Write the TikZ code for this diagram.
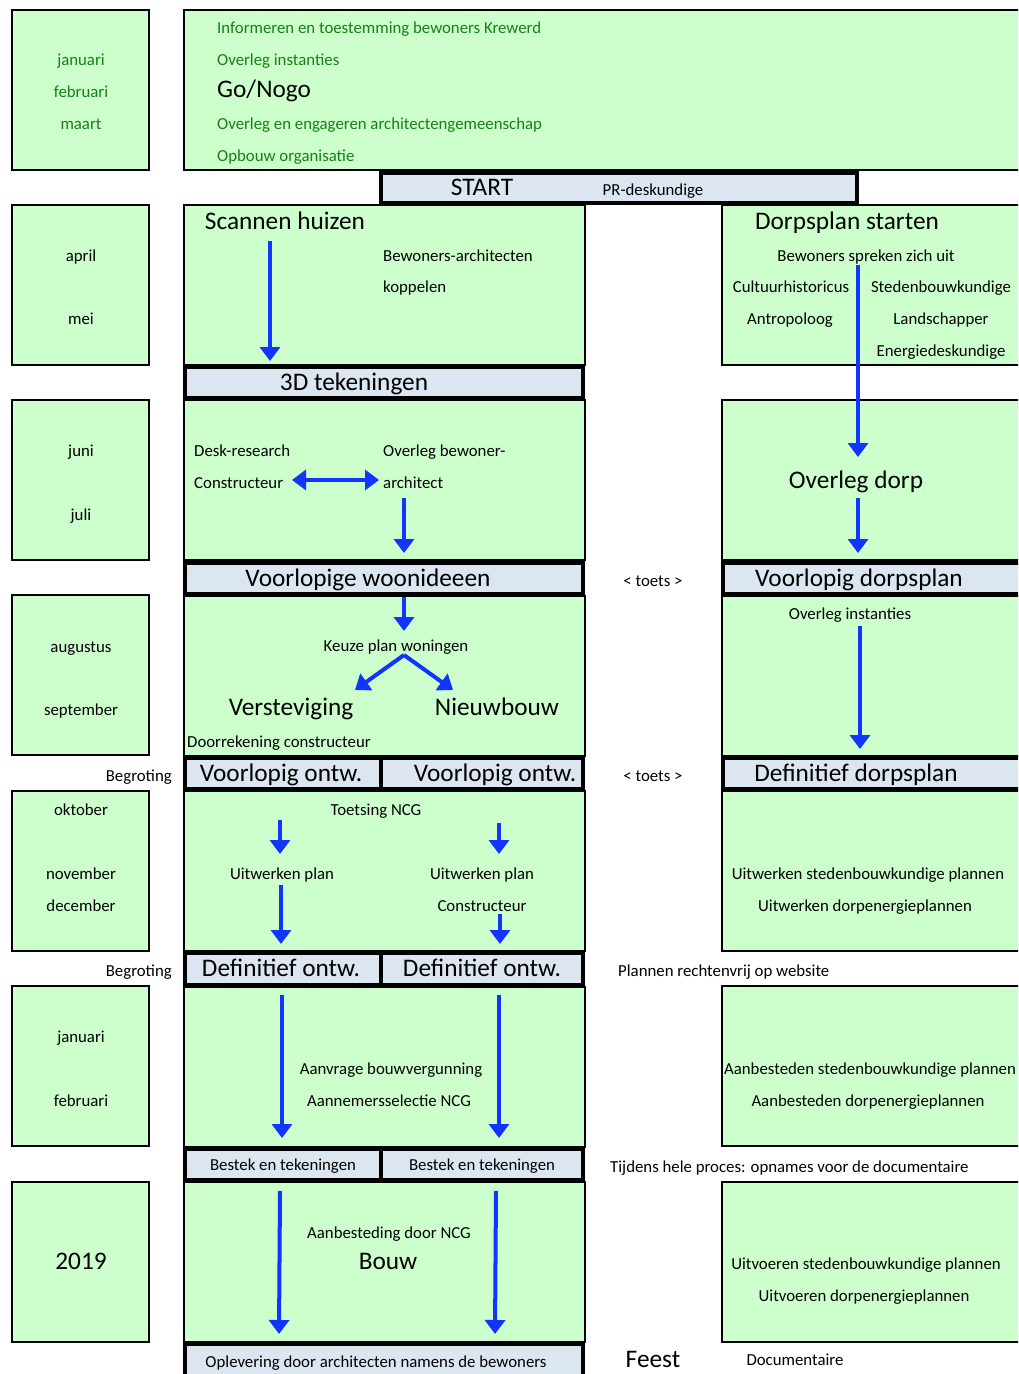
\documentclass[tikz,border=0pt]{standalone}
\usepackage{fontspec}
\setmainfont{Carlito}
\usepackage{tikz}
\usetikzlibrary{arrows.meta}
\usetikzlibrary{positioning}
\definecolor{lgreen}{RGB}{204,255,204}
\definecolor{lbar}{RGB}{220,230,241}
\definecolor{pblue}{RGB}{18,52,255}
\definecolor{dgreen}{RGB}{22,128,22}

\begin{document}
\begin{tikzpicture}[
		x=1pt, y=-1pt,
		M/.style = {rectangle, draw, fill=lgreen, line width=1.6pt,% month boxes
			minimum width=137, minimum height=160,
			anchor=north west, outer sep=0pt},
		G/.style 2 args = {rectangle, draw, fill=lgreen, line width=1.3pt,% work fields
			minimum width=#1, minimum height=#2,
			anchor=north west, outer sep=0pt},
		T/.style 2 args = {rectangle, draw, fill=lbar, line width=4.5pt,% milestone bars
			minimum width=#1, minimum height=#2,
			anchor=north west, outer sep=0pt},
		Sm/.style = {font=\fontsize{16.8}{20}\selectfont, inner sep=0pt,
			text height=12pt, text depth=0pt},
		Lg/.style = {font=\fontsize{25.3}{30}\selectfont, inner sep=0pt,
			text height=17pt, text depth=1pt},
		A/.style = {draw=pblue, line width=4pt,
			-{Triangle[width=20pt,length=14pt]}},
		]
		\useasboundingbox (0,0) rectangle (1018,1374);
		\clip (0,0) rectangle (1018,1374);
		\fill[white] (0,0) rectangle (1018,1374);
		% month column
		\foreach \y [count=\i] in {10,205,400,595,791,986,1182}
		\node[M] (m\i) at (12,\y) {};
		% fields
		\node[G={846}{160}] (top) at (184,10) {};
		\foreach \y [count=\i] in {205,400,596,791,987,1182}
		\node[G={401}{160}] (w\i) at (184,\y) {};
		\foreach \y [count=\i] in {205,400,596,791,986,1182}
		\node[G={308}{160}] (d\i) at (722,\y) {};
		% bars
		\node[T={476}{30}] (start) at (381,173) {};
		\node[T={398}{31}] (td) at (185,367) {};
		\node[T={398}{31}] (vw) at (185,563) {};
		\node[T={320}{31}] (vd) at (723,563) {};
		\node[T={196}{31}] (vo1) at (185,758) {};
		\node[T={202}{31}, right=0pt of vo1] (vo2) {};
		\node[T={320}{31}] (dd) at (723,758) {};
		\node[T={196}{32}] (do1) at (185,953) {};
		\node[T={202}{32}, right=0pt of do1] (do2) {};
		\node[T={196}{31}] (be1) at (185,1149) {};
		\node[T={202}{31}, right=0pt of be1] (be2) {};
		\node[T={398}{40}] (op) at (185,1344) {};
		% arrows
		\foreach \n/\a/\b/\c/\d in {1/270/241/270/361, 2/858/265/858/457,
			3/858/498/858/553, 5/404/498/404/553, 6/404/597/404/631,
			7/404/655/355/690, 8/404/655/453/690, 9/860/626/860/749,
			10/280/820/280/854, 11/499/823/499/854, 12/281/885/281/944,
			13/500/914/500/944, 14/282/995/282/1138, 15/499/995/499/1138,
			16/280/1191/279/1334, 17/496/1191/495/1334}
		{\coordinate (p\n) at (\a,\b);
			\coordinate (q\n) at (\c,\d);
			\draw[A] (p\n) -- (q\n);}
		\coordinate (p4) at (292,480);
		\coordinate (q4) at (379,480);
		\draw[A, {Triangle[width=20pt,length=14pt]}-{Triangle[width=20pt,length=14pt]}] (p4) -- (q4);
		% months
		\foreach \t/\y [count=\i] in {januari/59,februari/91,maart/123}
		\node[Sm, text=dgreen] (q\i) at (81,\y) {\t};
		\foreach \t/\y [count=\i] in {april/255, mei/318, juni/450, juli/514,
			augustus/646, september/709, oktober/809, november/873,
			december/905, januari/1036, februari/1100}
		\node[Sm] (t\i) at (81,\y) {\t};
		\node[Lg] (yr) at (81,1261) {2019};
		% top field
		\foreach \t/\y [count=\i] in {Informeren en toestemming bewoners Krewerd/27,
			Overleg instanties/59, Overleg en engageren architectengemeenschap/123,
			Opbouw organisatie/155}
		\node[Sm, text=dgreen, anchor=west] (i\i) at (217,\y) {\t};
		\node[Lg, anchor=west] (go) at (217,89) {Go/Nogo};
		\node[Lg] (st) at (482,187) {START};
		\node[Sm] (pr) at (653,189) {PR-deskundige};
		% april - mei
		\node[Lg] (scan) at (285,221) {Scannen huizen};
		\node[Sm, anchor=west] (ba1) at (383,255) {Bewoners-architecten};
		\node[Sm, anchor=west] (ba2) at (383,286) {koppelen};
		\node[Lg] (ds) at (847,221) {Dorpsplan starten};
		\node[Sm] (bs) at (866,255) {Bewoners spreken zich uit};
		\node[Sm] (cu) at (791,286) {Cultuurhistoricus};
		\node[Sm] (sb) at (941,286) {Stedenbouwkundige};
		\node[Sm] (an) at (790,318) {Antropoloog};
		\node[Sm] (la) at (941,318) {Landschapper};
		\node[Sm] (en) at (941,350) {Energiedeskundige};
		\node[Lg] (tdt) at (354,382) {3D tekeningen};
		% juni - juli
		\node[Sm, anchor=west] (dr) at (194,450) {Desk-research};
		\node[Sm, anchor=west] (co) at (194,482) {Constructeur};
		\node[Sm, anchor=west] (ob) at (383,450) {Overleg bewoner-};
		\node[Sm, anchor=west] (ar) at (383,482) {architect};
		\node[Lg] (od) at (856,480) {Overleg dorp};
		\node[Lg] (vwt) at (368,578) {Voorlopige woonideeen};
		\node[Sm] (to1) at (653,580) {< toets >};
		\node[Lg] (vdt) at (859,578) {Voorlopig dorpsplan};
		% augustus - september
		\node[Sm] (kz) at (396,645) {Keuze plan woningen};
		\node[Lg] (vs) at (291,707) {Versteviging};
		\node[Lg] (nb) at (497,707) {Nieuwbouw};
		\node[Sm, anchor=west] (dc) at (187,741) {Doorrekening constructeur};
		\node[Sm] (oi) at (850,613) {Overleg instanties};
		\node[Sm, anchor=east] (bg1) at (172,775) {Begroting};
		\node[Lg] (vo1t) at (281,773) {Voorlopig ontw.};
		\node[Lg] (vo2t) at (495,773) {Voorlopig ontw.};
		\node[Sm] (to2) at (653,775) {< toets >};
		\node[Lg] (ddt) at (856,773) {Definitief dorpsplan};
		% oktober - december
		\node[Sm] (tn) at (376,809) {Toetsing NCG};
		\node[Sm] (up1) at (282,873) {Uitwerken plan};
		\node[Sm] (up2) at (482,873) {Uitwerken plan};
		\node[Sm] (co2) at (482,905) {Constructeur};
		\node[Sm] (us) at (868,873) {Uitwerken stedenbouwkundige plannen};
		\node[Sm] (ue) at (865,905) {Uitwerken dorpenergieplannen};
		\node[Sm, anchor=east] (bg2) at (172,970) {Begroting};
		\node[Lg] (do1t) at (281,968) {Definitief ontw.};
		\node[Lg] (do2t) at (482,968) {Definitief ontw.};
		\node[Sm, anchor=west] (pw) at (618,970) {Plannen rechtenvrij op website};
		% januari - februari
		\node[Sm] (ab) at (391,1068) {Aanvrage bouwvergunning};
		\node[Sm] (as) at (389,1100) {Aannemersselectie NCG};
		\node[Sm] (ast) at (870,1068) {Aanbesteden stedenbouwkundige plannen};
		\node[Sm] (ade) at (868,1100) {Aanbesteden dorpenergieplannen};
		\node[Sm] (be1t) at (be1) {Bestek en tekeningen};
		\node[Sm] (be2t) at (be2) {Bestek en tekeningen};
		\node[Sm, anchor=west] (tp) at (610,1166) {Tijdens hele proces: opnames voor de documentaire};
		% 2019
		\node[Sm] (an2) at (389,1232) {Aanbesteding door NCG};
		\node[Lg] (bw) at (388,1261) {Bouw};
		\node[Sm] (ust) at (866,1263) {Uitvoeren stedenbouwkundige plannen};
		\node[Sm] (ude) at (864,1295) {Uitvoeren dorpenergieplannen};
		\node[Sm] (opt) at (376,1361) {Oplevering door architecten namens de bewoners};
		\node[Lg] (fe) at (653,1359) {Feest};
		\node[Sm] (doc) at (795,1359) {Documentaire};
	\end{tikzpicture}
\end{document}
